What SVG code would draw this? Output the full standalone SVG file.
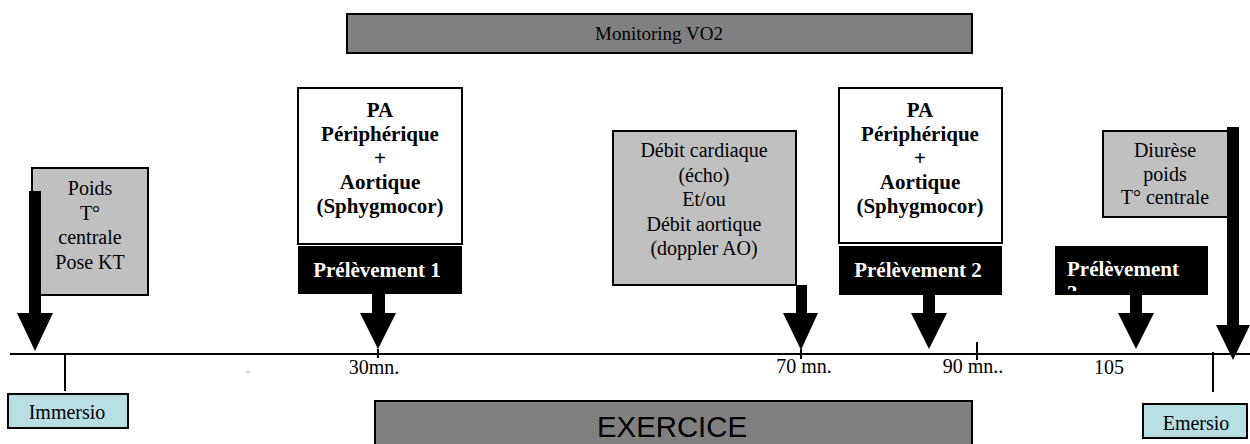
<svg xmlns="http://www.w3.org/2000/svg" width="1250" height="444" viewBox="0 0 1250 444">
<defs>
<style>
.t{font-family:"Liberation Serif","Times New Roman",serif;font-size:20px;fill:#000;text-anchor:middle}
.b{font-weight:bold;font-size:21px}
.w{fill:#fff}
.box{stroke:#000;stroke-width:2}
.grey{fill:#c0c0c0}
.dark{fill:#808080}
.white{fill:#fff}
.cyan{fill:#b8e0e3}
.black{fill:#000}
.ax{stroke:#000;stroke-width:2;fill:none}
.arr{fill:#000}
</style>
<clipPath id="clip3"><rect x="1055" y="246" width="153" height="45"/></clipPath>
</defs>
<rect width="1250" height="444" fill="#fff"/>

<g id="monitoring">
<rect class="box dark" x="347" y="14" width="625" height="39"/>
<text class="t" x="659" y="40" style="font-size:19px">Monitoring VO2</text>
</g>

<g id="exercice">
<rect class="box dark" x="375" y="401" width="597" height="50"/>
<text x="672" y="437" text-anchor="middle" font-family="Liberation Sans, Arial, sans-serif" font-size="29" textLength="150" lengthAdjust="spacingAndGlyphs">EXERCICE</text>
</g>

<g id="poids">
<rect class="box grey" x="32" y="168" width="116" height="127"/>
<text class="t" x="90" y="195">Poids</text>
<text class="t" x="90" y="219.5">T°</text>
<text class="t" x="90" y="244">centrale</text>
<text class="t" x="90" y="268.5">Pose KT</text>
</g>

<g id="pa1">
<rect class="box white" x="298" y="88" width="164" height="156"/>
<text class="t b" x="380" y="117">PA</text>
<text class="t b" x="380" y="141">Périphérique</text>
<text class="t b" x="380" y="165">+</text>
<text class="t b" x="380" y="189">Aortique</text>
<text class="t b" x="380" y="213">(Sphygmocor)</text>
</g>

<g id="prelevement1">
<rect class="black" x="298" y="246" width="164" height="48"/>
<text class="t b w" x="377" y="277">Prélèvement 1</text>
</g>

<g id="debit">
<rect class="box grey" x="613" y="131" width="183" height="154"/>
<text class="t" x="704" y="157">Débit cardiaque</text>
<text class="t" x="704" y="181.5">(écho)</text>
<text class="t" x="704" y="206">Et/ou</text>
<text class="t" x="704" y="230.5">Débit aortique</text>
<text class="t" x="704" y="255">(doppler AO)</text>
</g>

<g id="pa2">
<rect class="box white" x="839" y="88" width="163" height="155"/>
<text class="t b" x="920" y="117">PA</text>
<text class="t b" x="920" y="141">Périphérique</text>
<text class="t b" x="920" y="165">+</text>
<text class="t b" x="920" y="189">Aortique</text>
<text class="t b" x="920" y="213">(Sphygmocor)</text>
</g>

<g id="prelevement2">
<rect class="black" x="839" y="246" width="163" height="49"/>
<text class="t b w" x="918" y="277">Prélèvement 2</text>
</g>

<g id="prelevement3">
<rect class="black" x="1055" y="246" width="153" height="49"/>
<g clip-path="url(#clip3)">
<text class="t b w" x="1067" y="276" style="text-anchor:start">Prélèvement</text>
<text class="t b w" x="1067" y="300" style="text-anchor:start">3</text>
</g>
</g>

<g id="diurese">
<rect class="box grey" x="1103" y="131" width="125" height="86"/>
<text class="t" x="1165" y="157">Diurèse</text>
<text class="t" x="1165" y="180.5">poids</text>
<text class="t" x="1165" y="204">T° centrale</text>
</g>

<g id="immersio">
<rect class="box cyan" x="8" y="394" width="120" height="34"/>
<text class="t" x="67" y="419">Immersio</text>
</g>

<g id="emersio">
<rect class="box cyan" x="1143" y="404" width="104" height="34"/>
<text class="t" x="1196" y="430">Emersio</text>
</g>

<g id="connectors">
<line class="ax" x1="10" y1="354" x2="1250" y2="354"/>
<line class="ax" x1="65" y1="354" x2="65" y2="391"/>
<line class="ax" x1="378" y1="349" x2="378" y2="358"/>
<line class="ax" x1="801" y1="349" x2="801" y2="359"/>
<line class="ax" x1="977" y1="342" x2="977" y2="360"/>
<line class="ax" x1="1213" y1="352" x2="1213" y2="392"/>
<line x1="246" y1="372" x2="250" y2="372" stroke="#aaa" stroke-width="1"/>
<polygon class="arr" points="29,191 41,191 41,313 53,313 35,351 17,313 29,313"/>
<polygon class="arr" points="372,294 385,294 385,313 396,313 378,349 360,313 372,313"/>
<polygon class="arr" points="796,285 807,285 807,313 818,313 801,350 783,313 796,313"/>
<polygon class="arr" points="923,295 935,295 935,313 947,313 929,349 911,313 923,313"/>
<polygon class="arr" points="1130,295 1142,295 1142,313 1154,313 1136,349 1118,313 1130,313"/>
<polygon class="arr" points="1227,127 1239,127 1239,325 1250,325 1233,360 1216,325 1227,325"/>
</g>

<g id="labels">
<text class="t" x="374" y="374">30mn.</text>
<text class="t" x="804" y="373">70 mn.</text>
<text class="t" x="973" y="373">90 mn..</text>
<text class="t" x="1109" y="374">105</text>
</g>
</svg>
